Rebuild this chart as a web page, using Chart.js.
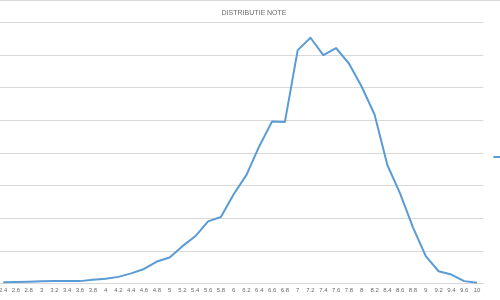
<!DOCTYPE html>
<html>
<head>
<meta charset="utf-8">
<script src="https://cdn.jsdelivr.net/npm/chart.js@4/dist/chart.umd.min.js"></script>
<style>
  html, body { margin: 0; padding: 0; background: #ffffff; overflow: hidden; }
  body { width: 500px; height: 300px; position: relative; }
  #topLine { position: absolute; left: 0; top: 0; width: 500px; border-top: 1px solid #d9d9d9; }
  #wrap { position: absolute; left: -4px; top: 0; width: 516px; height: 300px; }
</style>
</head>
<body>
<div id="wrap"><canvas id="noteChart"></canvas></div>
<div id="topLine"></div>
<script>
const chartTitle = "DISTRIBUTIE NOTE";
const seriesName = "Series1";

// note (x axis), 9.8 is not in the source table
const noteLabels = [
  "2.4", "2.6", "2.8", "3", "3.2", "3.4", "3.6", "3.8", "4", "4.2",
  "4.4", "4.6", "4.8", "5", "5.2", "5.4", "5.6", "5.8", "6", "6.2",
  "6.4", "6.6", "6.8", "7", "7.2", "7.4", "7.6", "7.8", "8", "8.2",
  "8.4", "8.6", "8.8", "9", "9.2", "9.4", "9.6", "10"
];

// number of grades per note
const noteCounts = [
  23, 26, 30, 38, 41, 41, 41, 61, 76, 106,
  159, 227, 341, 402, 576, 727, 955, 1023, 1371, 1667,
  2106, 2485, 2477, 3576, 3765, 3500, 3606, 3371, 3015, 2591,
  1818, 1379, 864, 424, 192, 141, 41, 15
];

const yMax = 4000;
const yStep = 500;

Chart.defaults.font.family = "'Liberation Sans', Arial, sans-serif";
Chart.defaults.color = "#595959";

function loadNoteChart() {
  const ctx = document.getElementById("noteChart");
  return new Chart(ctx, {
    type: "line",
    data: {
      labels: noteLabels,
      datasets: [
        {
          label: seriesName,
          data: noteCounts,
          borderColor: "#5b9bd5",
          backgroundColor: "#5b9bd5",
          borderWidth: 2,
          borderJoinStyle: "round",
          pointRadius: 0,
          tension: 0,
          fill: false,
        },
      ],
    },
    options: {
      responsive: true,
      maintainAspectRatio: false,
      animation: false,
      layout: { padding: { left: 0, right: 0, top: 0, bottom: 3 } },
      plugins: {
        title: {
          display: true,
          text: chartTitle,
          color: "#6b6b6b",
          font: { size: 7, weight: "normal" },
          padding: { top: 9, bottom: 5 },
        },
        legend: {
          position: "right",
          // legend is cut off by the right edge, only the line sample shows
          maxWidth: 28.6,
          title: { display: true, text: " ", padding: 0, font: { size: 14.17 } },
          labels: {
            usePointStyle: true,
            pointStyle: "line",
            pointStyleWidth: 14,
            padding: 10,
            font: { size: 9 },
          },
        },
        tooltip: { enabled: false },
      },
      scales: {
        x: {
          offset: true,
          grid: { display: false, drawTicks: false },
          border: { display: true, color: "#d9d9d9", width: 1 },
          ticks: {
            autoSkip: false,
            maxRotation: 0,
            minRotation: 0,
            padding: 3,
            color: "#6b6b6b",
            font: { size: 6 },
          },
        },
        y: {
          min: 0,
          max: yMax,
          grid: { color: "#d9d9d9", lineWidth: 1, drawTicks: false },
          border: { display: false },
          ticks: { display: false, stepSize: yStep },
        },
      },
    },
  });
}

(() => {
  loadNoteChart();
})();
</script>
</body>
</html>
